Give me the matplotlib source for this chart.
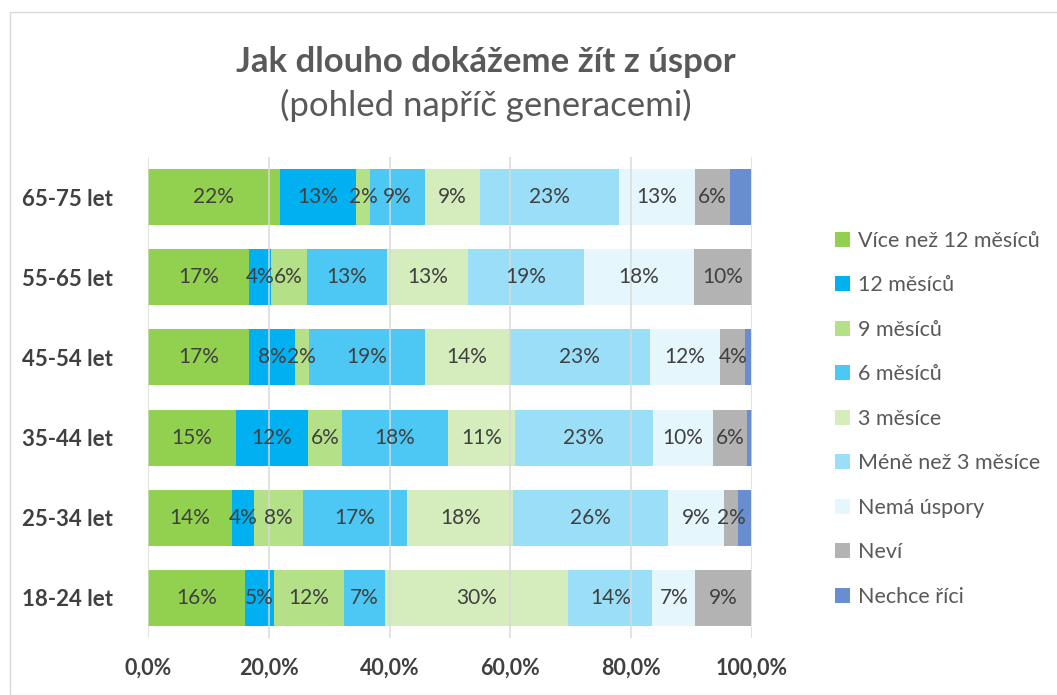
import numpy as np
import matplotlib.pyplot as plt
from matplotlib.patches import Rectangle
from matplotlib.ticker import FuncFormatter

plt.rcParams['font.family'] = ['Lato', 'DejaVu Sans']

# data (shares, %)
groups = ["65-75 let", "55-65 let", "45-54 let", "35-44 let", "25-34 let", "18-24 let"]
series = ["Více než 12 měsíců", "12 měsíců", "9 měsíců", "6 měsíců", "3 měsíce",
          "Méně než 3 měsíce", "Nemá úspory", "Neví", "Nechce říci"]
vice12 = [21.8, 16.7, 16.8, 14.6, 13.9, 16.1]
m12 = [12.6, 3.6, 7.5, 11.9, 3.6, 4.7]
m9 = [2.4, 6.0, 2.3, 5.6, 8.1, 11.6]
m6 = [9.0, 13.3, 19.2, 17.6, 17.3, 6.9]
m3 = [9.2, 13.3, 14.0, 11.0, 17.6, 30.3]
mene3 = [22.9, 19.3, 23.3, 22.9, 25.6, 13.9]
nema = [12.7, 18.2, 11.6, 10.0, 9.3, 7.1]
nevi = [5.7, 9.6, 4.2, 5.6, 2.3, 9.2]
nechce = [3.5, 0.0, 0.9, 0.8, 2.2, 0.0]

colors = ["#92D050", "#00B0F0", "#B4E087", "#4DC8F4", "#D5EDBC",
          "#9BDEF8", "#E5F6FD", "#B3B3B3", "#688ECF"]

values = [vice12, m12, m9, m6, m3, mene3, nema, nevi, nechce]

fig = plt.figure(figsize=(10.57, 6.95), dpi=100)
W, H = 1057, 695
fig.patches.append(Rectangle((10 / W, 0), 1.2, 1 - 12 / H, transform=fig.transFigure,
                             fill=False, edgecolor="#D9D9D9", linewidth=1.0))

ax = fig.add_axes([148 / W, 1 - 638 / H, (752 - 148) / W, (638 - 157) / H])

y = np.arange(len(groups))
left = np.zeros(len(groups))
for name, vals, c in zip(series, values, colors):
    v = np.array(vals) / 100.0
    ax.barh(y, v, left=left, height=0.7, color=c, label=name, zorder=2)
    if name != "Nechce říci":
        for yi, (l, w) in enumerate(zip(left, v)):
            if w > 0:
                ax.text(l + w / 2, yi, f"{round(w * 100):.0f}%", ha="center", va="center",
                        fontsize=15, color="#404040", zorder=3)
    left += v

ax.set_xlim(0, 1)
ax.set_ylim(len(groups) - 0.5, -0.5)
ax.set_yticks(y)
ax.set_yticklabels(groups, fontsize=16, fontweight="bold", color="#404040")
ax.set_xticks(np.arange(0, 1.01, 0.2))
ax.xaxis.set_major_formatter(FuncFormatter(lambda v, p: f"{v * 100:.1f}%".replace(".", ",")))
for lab in ax.get_xticklabels():
    lab.set_fontsize(15.5)
    lab.set_fontweight("bold")
    lab.set_color("#404040")
ax.tick_params(length=0, pad=14)
ax.tick_params(axis="y", pad=25)
ax.grid(axis="x", color="#D9D9D9", linewidth=1.2, zorder=4, alpha=0.9)
ax.set_axisbelow(False)
for s in ax.spines.values():
    s.set_visible(False)

ax.legend(loc="upper left", bbox_to_anchor=(826 / W, 1 - 222 / H), bbox_transform=fig.transFigure,
          frameon=False, fontsize=15.5, handlelength=0.7, handleheight=0.7,
          handletextpad=0.4, labelspacing=1.14, labelcolor="#595959", borderaxespad=0)

fig.text(486 / W, 1 - 62 / H, "Jak dlouho dokážeme žít z úspor", ha="center", va="center",
         fontsize=25, fontweight="bold", color="#595959")
fig.text(486 / W, 1 - 105 / H, "(pohled napříč generacemi)", ha="center", va="center",
         fontsize=25, color="#595959")

fig.savefig("out.png", dpi=100)
